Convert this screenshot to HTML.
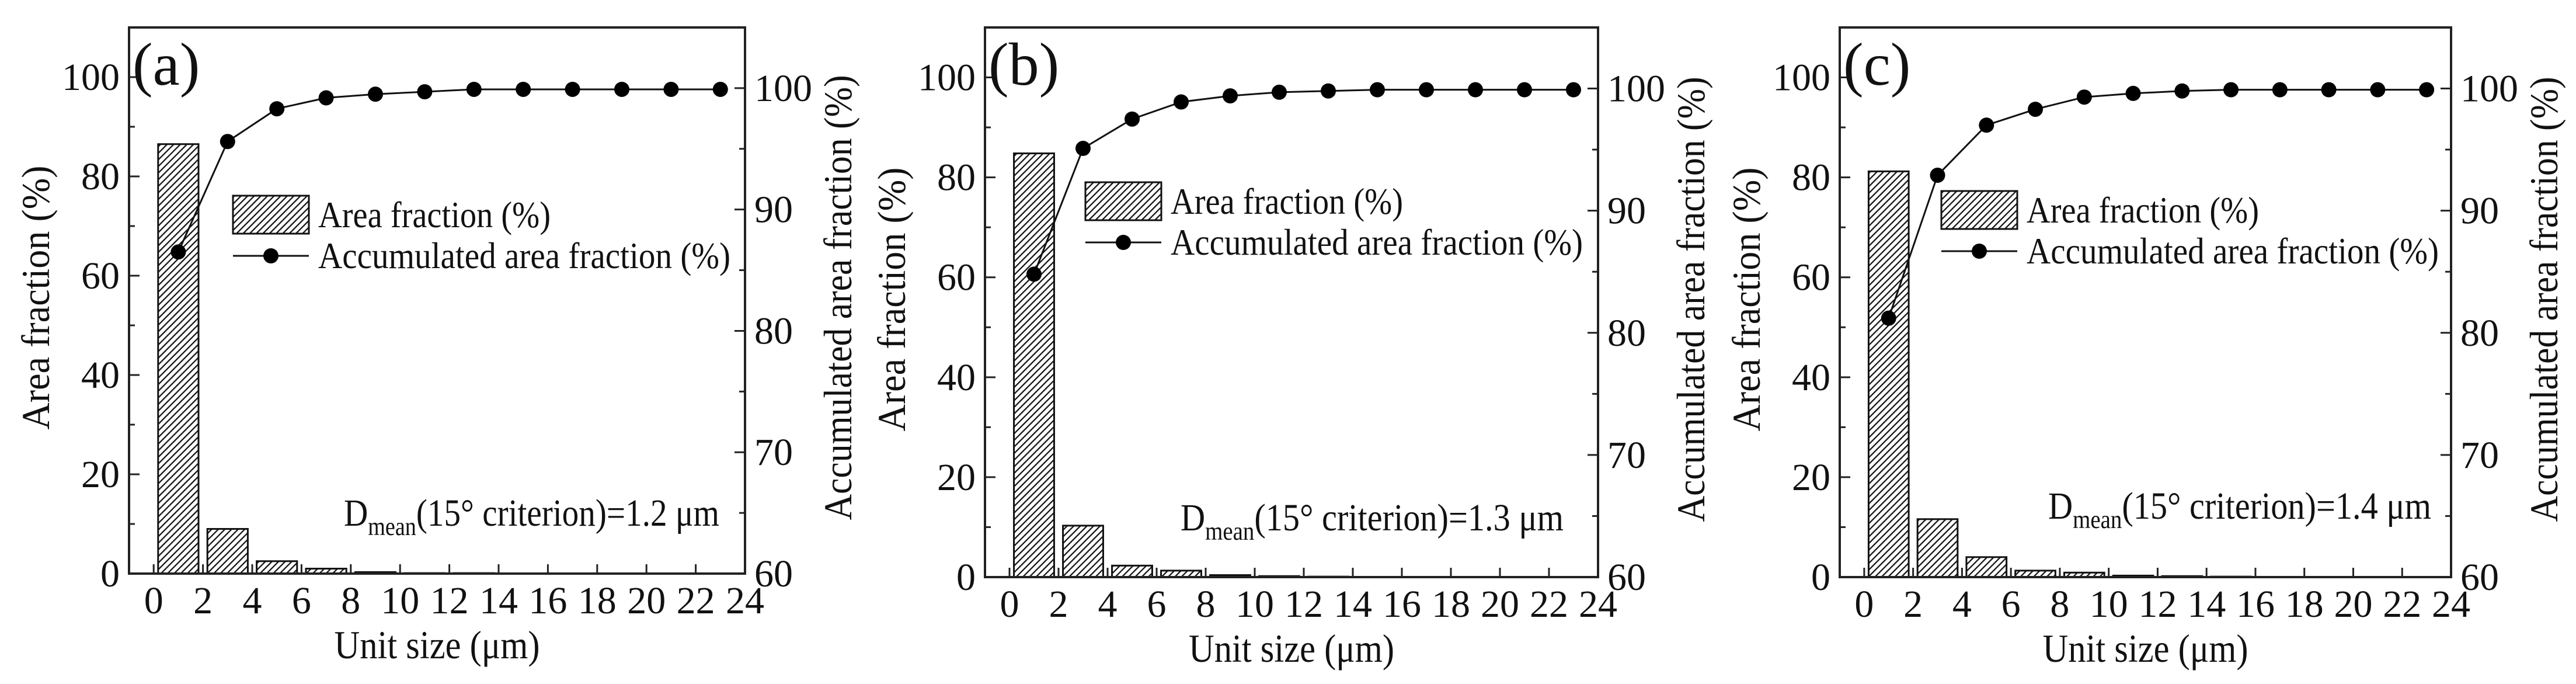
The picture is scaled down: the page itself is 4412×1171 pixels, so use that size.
<!DOCTYPE html>
<html><head><meta charset="utf-8"><style>
html,body{margin:0;padding:0;background:#fff;}
svg, svg text{font-family:"Liberation Serif","DejaVu Serif",serif;}
</style></head>
<body>
<svg id="fig" width="4412" height="1166" viewBox="0 0 4412 1166" xmlns="http://www.w3.org/2000/svg" font-family="Liberation Serif, DejaVu Serif, serif">
<defs>
<pattern id="hatch" patternUnits="userSpaceOnUse" width="8" height="8" patternTransform="rotate(45)">
<rect width="8" height="8" fill="#fff"/>
<line x1="0" y1="0" x2="0" y2="8" stroke="#111" stroke-width="4.5"/>
</pattern>
</defs>
</svg>
<script>
const categories = [1,3,5,7,9,11,13,15,17,19,21,23];
const areaA = [86.5,9.0,2.5,1.0,0.3,0.1,0.1,0,0,0,0,0];
const cumA  = [86.5,95.6,98.3,99.2,99.5,99.7,99.9,99.9,99.9,99.9,99.9,99.9];
const areaB = [84.8,10.3,2.3,1.3,0.4,0.2,0.1,0,0,0,0,0];
const cumB  = [84.8,95.1,97.5,98.9,99.4,99.7,99.8,99.9,99.9,99.9,99.9,99.9];
const areaC = [81.2,11.6,4.0,1.3,0.9,0.3,0.2,0.1,0,0,0,0];
const cumC  = [81.2,92.9,97.0,98.3,99.3,99.6,99.8,99.9,99.9,99.9,99.9,99.9];
const xTicks = [0,2,4,6,8,10,12,14,16,18,20,22,24];
const yLeftTicks = [0,20,40,60,80,100];
const yRightTicks = [60,70,80,90,100];
const panelLabels = ["(a)","(b)","(c)"];
const dmeanValues = ["1.2","1.3","1.4"];

const svg = document.getElementById('fig');
const NS = 'http://www.w3.org/2000/svg';
const FF = 'Liberation Serif, DejaVu Serif, serif';
function mk(tag, attrs, parent){
  const e = document.createElementNS(NS, tag);
  for (const k in attrs) e.setAttribute(k, attrs[k]);
  if (tag === 'text') e.setAttribute('font-family', FF);
  (parent||svg).appendChild(e);
  return e;
}
const layouts = [
  {L:221,R:1276,T:47,B:982,leg:[399,335],dm:[589,900,643]},
  {L:1687,R:2737,T:47,B:988,leg:[1859,312],dm:[2022,908,656]},
  {L:3151,R:4198,T:47,B:988,leg:[3325,327],dm:[3508,888,656]}
];
const datasets = [[areaA,cumA],[areaB,cumB],[areaC,cumC]];

layouts.forEach((p, i) => {
  const g = mk('g', {});
  
  
  const xs = v => p.L + (v + 1) / 25 * (p.R - p.L);
  const yl = v => p.B - v / 110 * (p.B - p.T);
  const yr = v => p.B - (v - 60) / 45 * (p.B - p.T);
  const [area, cum] = datasets[i];

  categories.forEach((c, k) => {
    const y = yl(area[k]);
    const r = mk('rect', {x: xs(c - 0.82), y: y, width: xs(c + 0.82) - xs(c - 0.82), height: Math.max(p.B - y, 0), fill: 'url(#hatch)', stroke: '#111', 'stroke-width': 3}, g);
    
    
  });

  const fr = mk('rect', {x: p.L, y: p.T, width: p.R - p.L, height: p.B - p.T, fill: 'none', stroke: '#222', 'stroke-width': 4}, g);
  
  

  xTicks.forEach(t => {
    mk('line', {x1: xs(t), x2: xs(t), y1: p.B, y2: p.B - 16, stroke: '#222', 'stroke-width': 3}, g);
    const tx = mk('text', {x: xs(t), y: p.B + 68, 'font-size': 66, 'text-anchor': 'middle', fill: '#111'}, g);
    tx.textContent = t;
    
    
  });
  for (let v = 0; v <= 110; v += 10) {
    const maj = v % 20 === 0;
    mk('line', {x1: p.L, x2: p.L + (maj ? 18 : 10), y1: yl(v), y2: yl(v), stroke: '#222', 'stroke-width': 3}, g);
  }
  yLeftTicks.forEach(t => {
    const tx = mk('text', {x: p.L - 16, y: yl(t) + 22, 'font-size': 66, 'text-anchor': 'end', fill: '#111'}, g);
    tx.textContent = t;
    
    
  });
  for (let v = 60; v <= 105; v += 5) {
    const maj = v % 10 === 0;
    mk('line', {x1: p.R, x2: p.R - (maj ? 18 : 10), y1: yr(v), y2: yr(v), stroke: '#222', 'stroke-width': 3}, g);
  }
  yRightTicks.forEach(t => {
    const tx = mk('text', {x: p.R + 16, y: yr(t) + 22, 'font-size': 66, 'text-anchor': 'start', fill: '#111'}, g);
    tx.textContent = t;
    
    
  });

  const pts = categories.map((c, k) => xs(c) + ',' + yr(cum[k])).join(' ');
  const pl = mk('polyline', {points: pts, fill: 'none', stroke: '#111', 'stroke-width': 3}, g);
  
  
  categories.forEach((c, k) => {
    const m = mk('circle', {cx: xs(c), cy: yr(cum[k]), r: 13, fill: '#000'}, g);
    
    
  });

  const cx = (p.L + p.R) / 2;
  const xt = mk('text', {x: cx, y: p.B + 145, 'font-size': 68, 'text-anchor': 'middle', fill: '#111', textLength: 352, lengthAdjust: 'spacingAndGlyphs'}, g);
  xt.textContent = 'Unit size (μm)';
  
  
  const ymid = (p.T + p.B) / 2 - 5;
  const ltx = p.L - 137;
  const lt = mk('text', {x: ltx, y: ymid, 'font-size': 68, 'text-anchor': 'middle', fill: '#111', transform: 'rotate(-90 ' + ltx + ' ' + ymid + ')', textLength: 452, lengthAdjust: 'spacingAndGlyphs'}, g);
  lt.textContent = 'Area fraction (%)';
  
  
  const rtx = p.R + 182;
  const rt = mk('text', {x: rtx, y: ymid, 'font-size': 68, 'text-anchor': 'middle', fill: '#111', transform: 'rotate(-90 ' + rtx + ' ' + ymid + ')', textLength: 762, lengthAdjust: 'spacingAndGlyphs'}, g);
  rt.textContent = 'Accumulated area fraction (%)';
  
  

  const pl2 = mk('text', {x: p.L + 6, y: p.T + 98, 'font-size': 104, fill: '#111'}, g);
  pl2.textContent = panelLabels[i];
  
  

  const [lx, ly] = p.leg;
  const lg = mk('g', {}, g);
  
  
  mk('rect', {x: lx, y: ly, width: 130, height: 65, fill: 'url(#hatch)', stroke: '#111', 'stroke-width': 3}, lg);
  const t1 = mk('text', {x: lx + 146, y: ly + 54, 'font-size': 64, fill: '#111', textLength: 398, lengthAdjust: 'spacingAndGlyphs'}, lg);
  t1.textContent = 'Area fraction (%)';
  
  
  mk('line', {x1: lx, x2: lx + 130, y1: ly + 103, y2: ly + 103, stroke: '#111', 'stroke-width': 3}, lg);
  mk('circle', {cx: lx + 65, cy: ly + 103, r: 13, fill: '#000'}, lg);
  const t2 = mk('text', {x: lx + 146, y: ly + 124, 'font-size': 64, fill: '#111', textLength: 706, lengthAdjust: 'spacingAndGlyphs'}, lg);
  t2.textContent = 'Accumulated area fraction (%)';
  
  

  const [dx, dy, dw] = p.dm;
  const dt = mk('text', {x: dx, y: dy, 'font-size': 66, fill: '#111'}, g);
  
  
  const s1 = mk('tspan', {}, dt); s1.textContent = 'D';
  const s2 = mk('tspan', {dy: 16, 'font-size': 44}, dt); s2.textContent = 'mean';
  const s3 = mk('tspan', {dy: -16}, dt); s3.textContent = '(15° criterion)=' + dmeanValues[i] + ' μm';
  dt.setAttribute('textLength', dw);
  dt.setAttribute('lengthAdjust', 'spacingAndGlyphs');
});
</script>
</body></html>
